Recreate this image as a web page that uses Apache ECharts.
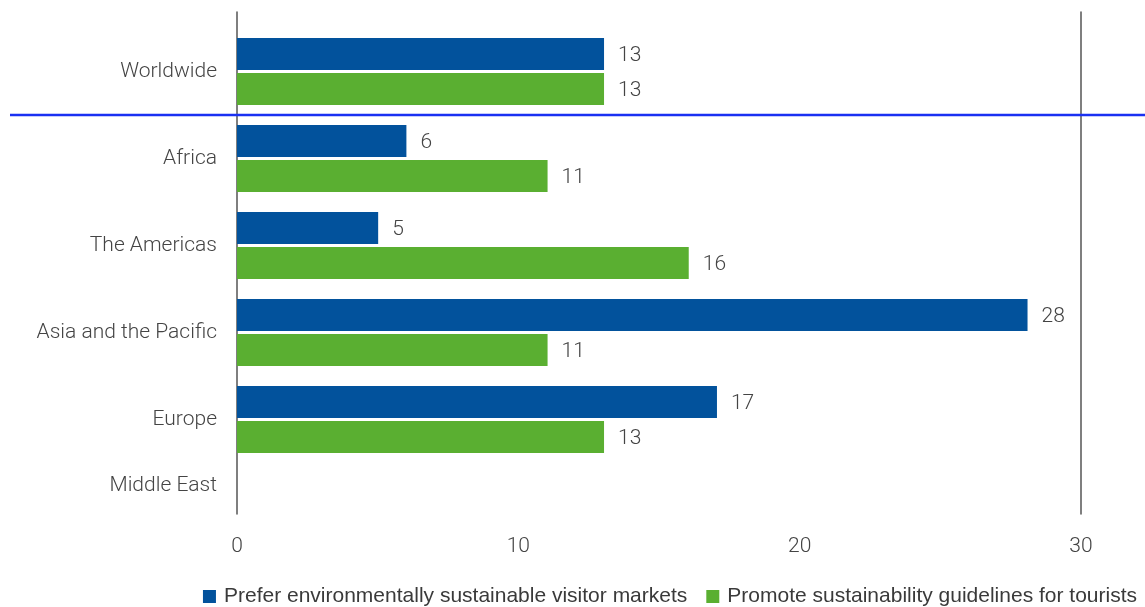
<!DOCTYPE html>
<html>
<head>
<meta charset="utf-8">
<script src="https://cdn.jsdelivr.net/npm/echarts@6/dist/echarts.min.js"></script>
<style>
  html, body { margin: 0; padding: 0; background: #fff; }
  #chart { width: 1145px; height: 607px; }
</style>
</head>
<body>
<div id="chart"></div>
<script>
// Regions, top to bottom
const regions = ['Worldwide', 'Africa', 'The Americas', 'Asia and the Pacific', 'Europe', 'Middle East'];
// Share of respondents (%)
const preferSustainableMarkets = [13, 6, 5, 28, 17, null];
const promoteGuidelines = [13, 11, 16, 11, 13, null];
const seriesNames = ['Prefer environmentally sustainable visitor markets', 'Promote sustainability guidelines for tourists'];
const xTicks = [0, 10, 20, 30];

const BLUE = '#02529c';
const GREEN = '#5aaf31';
const TEXT = '#444444';
const LABEL_FONT = 'Roboto';
const LABEL_SIZE = 21;

const chart = echarts.init(document.getElementById('chart'));

const valueLabel = {
  show: true,
  position: 'right',
  distance: 14,
  offset: [0, 2],
  fontFamily: LABEL_FONT,
  fontWeight: 300,
  fontSize: LABEL_SIZE,
  color: TEXT
};

chart.setOption({
  animation: false,
  legend: {
    bottom: -5,
    right: 3,
    icon: 'rect',
    itemWidth: 13,
    itemHeight: 13,
    itemGap: 19,
    textStyle: { fontFamily: 'Liberation Sans, Arial', fontSize: 21, color: '#3a3a3a', padding: [0, 0, 0, 3] },
    data: seriesNames
  },
  grid: [
    // frame: axis lines and x tick labels
    { left: 237, right: 64, top: 12, bottom: 93 },
    // bars: one 87px band per region
    { left: 237, right: 61, top: 28, height: 87 * regions.length }
  ],
  xAxis: [
    {
      gridIndex: 0, type: 'value', min: xTicks[0], max: xTicks[xTicks.length - 1], interval: 10,
      axisLine: { show: false }, axisTick: { show: false }, splitLine: { show: false },
      axisLabel: { margin: 22, fontFamily: LABEL_FONT, fontWeight: 300, fontSize: LABEL_SIZE, color: TEXT }
    },
    {
      gridIndex: 1, type: 'value', min: xTicks[0], max: xTicks[xTicks.length - 1],
      show: false
    }
  ],
  yAxis: [
    {
      gridIndex: 0, type: 'value', position: 'left',
      axisLine: { show: true, lineStyle: { color: '#555', width: 1.5 } },
      axisTick: { show: false }, axisLabel: { show: false }, splitLine: { show: false }
    },
    {
      gridIndex: 0, type: 'value', position: 'right',
      axisLine: { show: true, lineStyle: { color: '#555', width: 1.5 } },
      axisTick: { show: false }, axisLabel: { show: false }, splitLine: { show: false }
    },
    {
      gridIndex: 1, type: 'category', inverse: true,
      data: regions,
      axisLine: { show: false }, axisTick: { show: false }, splitLine: { show: false },
      axisLabel: {
        margin: 20, fontFamily: LABEL_FONT, fontWeight: 300, fontSize: LABEL_SIZE, color: TEXT,
        // the last region has no bars; lift its label into the visible frame
        formatter: function (v) {
          return v === regions[regions.length - 1] ? '{lift|' + v + '}\n{lift| }' : v;
        },
        rich: {
          lift: { fontFamily: LABEL_FONT, fontWeight: 300, fontSize: LABEL_SIZE, color: TEXT, lineHeight: 42 }
        }
      }
    }
  ],
  series: [
    {
      name: seriesNames[0], type: 'bar', xAxisIndex: 1, yAxisIndex: 2,
      data: preferSustainableMarkets,
      itemStyle: { color: BLUE },
      barWidth: 32, barGap: '10%',
      label: valueLabel
    },
    {
      name: seriesNames[1], type: 'bar', xAxisIndex: 1, yAxisIndex: 2,
      data: promoteGuidelines,
      itemStyle: { color: GREEN },
      barWidth: 32, barGap: '10%',
      label: valueLabel
    }
  ]
});

// Separator between the worldwide total and the regional breakdown
const yTop = chart.convertToPixel({ yAxisIndex: 2 }, regions[0]);
const yNext = chart.convertToPixel({ yAxisIndex: 2 }, regions[1]);
const ySep = Math.round((yTop + yNext) / 2);
chart.setOption({
  graphic: [{
    type: 'line',
    shape: { x1: 10, y1: ySep, x2: 1145, y2: ySep },
    style: { stroke: '#1a30f2', lineWidth: 2.5 },
    z: 10
  }]
});
</script>
</body>
</html>
